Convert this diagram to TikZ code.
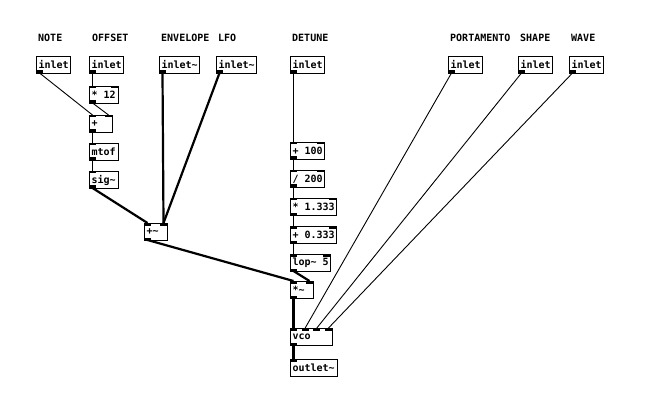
\documentclass[tikz,border=0pt]{standalone}
\usepackage{fontspec}
\newfontfamily\pdfont{DejaVu Sans Mono}
\tikzset{
  pdobj/.style={draw, line width=1pt, inner xsep=2pt, inner ysep=0pt, minimum height=17pt, font=\pdfont\bfseries\fontsize{10}{12}\selectfont},
  pdlabel/.style={anchor=west, inner sep=0pt, font=\pdfont\bfseries\fontsize{10}{12}\selectfont},
  ctl/.style={line width=0.9pt},
  sig/.style={line width=2.2pt},
}
\newcommand\pdob[7]{%
  \pgfmathsetmacro\tw{#4-4}%
  \node[pdobj, anchor=north west] (#1) at (#2,#3) {\makebox[\tw pt][l]{#5}};
  \ifnum#6>0
    \foreach \k in {1,...,#6}{%
      \ifnum#6=1 \pgfmathsetmacro\xx{#2}\else\pgfmathsetmacro\xx{#2+(\k-1)*(#4-7)/(#6-1)}\fi
      \fill (\xx,#3) rectangle ++(7,2.5);
      \coordinate (#1-i\k) at (\xx+3.5,#3);
    }%
  \fi
  \ifnum#7>0
    \foreach \k in {1,...,#7}{%
      \ifnum#7=1 \pgfmathsetmacro\xx{#2}\else\pgfmathsetmacro\xx{#2+(\k-1)*(#4-7)/(#7-1)}\fi
      \fill (\xx,#3+17) rectangle ++(7,-2.5);
      \coordinate (#1-o\k) at (\xx+3.5,#3+17);
    }%
  \fi
}
\begin{document}
\begin{tikzpicture}[x=1pt,y=-1pt]
\useasboundingbox[fill=white] (0,0) rectangle (651,409);
% labels
\node[pdlabel] (lNote) at (38,38) {NOTE};
\node[pdlabel] (lOff) at (92,38) {OFFSET};
\node[pdlabel] (lEnv) at (161,38) {ENVELOPE};
\node[pdlabel] (lLfo) at (218,38) {LFO};
\node[pdlabel] (lDet) at (292,38) {DETUNE};
\node[pdlabel] (lPort) at (450,38) {PORTAMENTO};
\node[pdlabel] (lShape) at (520,38) {SHAPE};
\node[pdlabel] (lWave) at (571,38) {WAVE};
% inlets
\pdob{noteIn}{36}{56}{34}{inlet}{0}{1}
\pdob{offIn}{89}{56}{34}{inlet}{0}{1}
\pdob{envIn}{159}{56}{40}{inlet\textasciitilde}{0}{1}
\pdob{lfoIn}{216}{56}{40}{inlet\textasciitilde}{0}{1}
\pdob{detIn}{290}{56}{34}{inlet}{0}{1}
\pdob{portIn}{448}{56}{34}{inlet}{0}{1}
\pdob{shapeIn}{518}{56}{34}{inlet}{0}{1}
\pdob{waveIn}{569}{56}{34}{inlet}{0}{1}
% left chain
\pdob{mul12}{89}{86}{29}{* 12}{2}{1}
\pdob{plus}{89}{115}{23}{+}{2}{1}
\pdob{mtof}{89}{143}{29}{mtof}{1}{1}
\pdob{sigo}{89}{171}{29}{sig\textasciitilde}{1}{1}
\pdob{plusS}{144}{223}{23}{+\textasciitilde}{2}{1}
% detune chain
\pdob{p100}{290}{142}{34}{+ 100}{2}{1}
\pdob{d200}{290}{170}{34}{/ 200}{2}{1}
\pdob{m1333}{290}{198}{46}{* 1.333}{2}{1}
\pdob{p0333}{290}{226}{46}{+ 0.333}{2}{1}
\pdob{lop}{290}{254}{40}{lop\textasciitilde{} 5}{2}{1}
\pdob{mulS}{290}{281}{23}{*\textasciitilde}{2}{1}
\pdob{vco}{290}{328}{42}{vco}{4}{1}
\pdob{outS}{290}{359}{47}{outlet\textasciitilde}{1}{0}
% connections
\draw[ctl] (noteIn-o1) -- (plus-i1);
\draw[ctl] (offIn-o1) -- (mul12-i1);
\draw[ctl] (mul12-o1) -- (plus-i2);
\draw[ctl] (plus-o1) -- (mtof-i1);
\draw[ctl] (mtof-o1) -- (sigo-i1);
\draw[sig] (sigo-o1) -- (plusS-i1);
\draw[sig] (envIn-o1) -- (plusS-i2);
\draw[sig] (lfoIn-o1) -- (plusS-i2);
\draw[sig] (plusS-o1) -- (mulS-i1);
\draw[sig] (lop-o1) -- (mulS-i2);
\draw[ctl] (detIn-o1) -- (p100-i1);
\draw[ctl] (p100-o1) -- (d200-i1);
\draw[ctl] (d200-o1) -- (m1333-i1);
\draw[ctl] (m1333-o1) -- (p0333-i1);
\draw[ctl] (p0333-o1) -- (lop-i1);
\draw[sig] (mulS-o1) -- (vco-i1);
\draw[sig] (vco-o1) -- (outS-i1);
\draw[ctl] (portIn-o1) -- (vco-i2);
\draw[ctl] (shapeIn-o1) -- (vco-i3);
\draw[ctl] (waveIn-o1) -- (vco-i4);
\end{tikzpicture}
\end{document}
